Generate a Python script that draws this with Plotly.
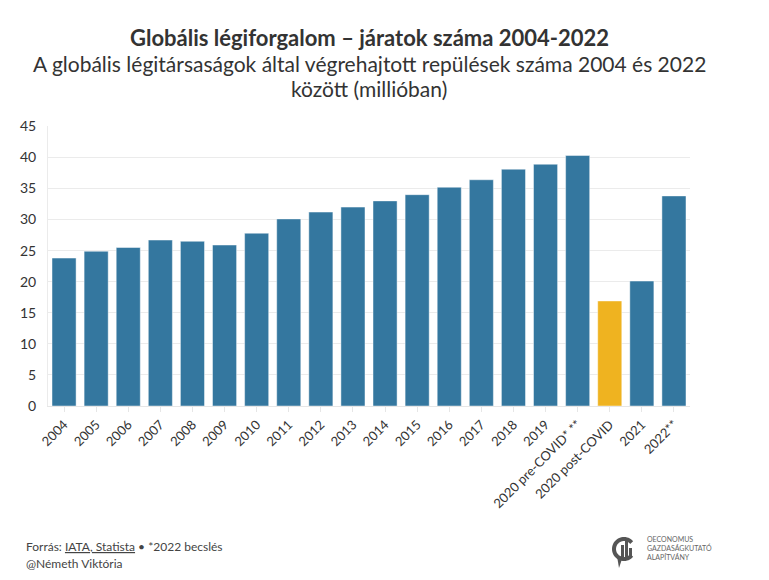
import math
import plotly.graph_objects as go

categories = ["2004", "2005", "2006", "2007", "2008", "2009", "2010", "2011", "2012",
              "2013", "2014", "2015", "2016", "2017", "2018", "2019",
              "2020 pre-COVID* **", "2020 post-COVID", "2021", "2022**"]
values = [23.8, 24.9, 25.5, 26.7, 26.5, 25.9, 27.8, 30.1, 31.2, 32.0, 33.0, 34.0,
          35.2, 36.4, 38.1, 38.9, 40.3, 16.9, 20.1, 33.8]
highlight = "2020 post-COVID"
y_ticks = [0, 5, 10, 15, 20, 25, 30, 35, 40, 45]

BLUE = "#34779f"
YELLOW = "#efb320"
colors = [YELLOW if c == highlight else BLUE for c in categories]

FONT = "Lato"

# plot area in pixels (for placing the logo mark)
PL, PR, PT, PB = 48, 690, 126, 406


def px(x):
    return (x - PL) / (PR - PL)


def py(y):
    return (PB - y) / (PB - PT)


fig = go.Figure(go.Bar(
    x=categories, y=values,
    marker=dict(color=colors, line=dict(color="rgba(255,255,255,0.45)", width=1)),
    hovertemplate="%{x}: %{y}<extra></extra>",
))

# logo: open arc "C" with bars and a tail
cx, cy, r = 624, 549, 10
pts = []
for i in range(0, 41):
    a = math.radians(40 + i * (280 / 40))
    pts.append((cx + r * math.cos(a), cy - r * math.sin(a)))
arc_path = "M " + " L ".join(f"{px(x):.5f},{py(y):.5f}" for x, y in pts)

logo_shapes = [
    dict(type="path", xref="paper", yref="paper", path=arc_path,
         line=dict(color="#555555", width=4)),
    dict(type="path", xref="paper", yref="paper",
         path=f"M {px(617):.5f},{py(556):.5f} L {px(622):.5f},{py(559):.5f} L {px(619):.5f},{py(568):.5f} Z",
         line=dict(width=0), fillcolor="#555555"),
    dict(type="rect", xref="paper", yref="paper",
         x0=px(621), x1=px(624), y0=py(558), y1=py(545),
         line=dict(width=0), fillcolor="#555555"),
    dict(type="rect", xref="paper", yref="paper",
         x0=px(625), x1=px(628), y0=py(558), y1=py(540),
         line=dict(width=0), fillcolor="#555555"),
    dict(type="rect", xref="paper", yref="paper",
         x0=px(629), x1=px(632), y0=py(558), y1=py(548),
         line=dict(width=0), fillcolor="#555555"),
]

fig.update_layout(
    width=769, height=580,
    margin=dict(l=PL, r=769 - PR, t=PT, b=580 - PB),
    paper_bgcolor="white", plot_bgcolor="white",
    bargap=0.25,
    showlegend=False,
    font=dict(family=FONT, color="#333333"),
    xaxis=dict(
        type="category", tickangle=-45,
        tickfont=dict(size=13, color="#333333"),
        showgrid=False, showline=True, linecolor="#e6e6e6", linewidth=1,
        ticks="outside", ticklen=5, tickcolor="#e6e6e6",
        fixedrange=True,
    ),
    yaxis=dict(
        range=[0, 45.05], tickvals=y_ticks,
        tickfont=dict(size=14, color="#333333"),
        showgrid=True, gridcolor="#ebebeb", gridwidth=1,
        showline=True, linecolor="#ebebeb", linewidth=1,
        zeroline=False, ticks="", ticklabelstandoff=8,
        fixedrange=True,
    ),
    annotations=[
        dict(text="<b>Globális légiforgalom – járatok száma 2004-2022</b>",
             xref="paper", yref="paper", x=0.5, y=1.0, yshift=89,
             xanchor="center", yanchor="middle", showarrow=False,
             font=dict(size=22, color="#333333", family=FONT)),
        dict(text="A globális légitársaságok által végrehajtott repülések száma 2004 és 2022",
             xref="paper", yref="paper", x=0.5, y=1.0, yshift=63,
             xanchor="center", yanchor="middle", showarrow=False,
             font=dict(size=21, color="#333333", family=FONT)),
        dict(text="között (millióban)",
             xref="paper", yref="paper", x=0.5, y=1.0, yshift=38,
             xanchor="center", yanchor="middle", showarrow=False,
             font=dict(size=21, color="#333333", family=FONT)),
        dict(text="Forrás: <u>IATA, Statista</u> • *2022 becslés",
             xref="paper", yref="paper", x=0, xshift=-24, y=0, yshift=-140,
             xanchor="left", yanchor="middle", showarrow=False,
             font=dict(size=12, color="#444444", family=FONT)),
        dict(text="@Németh Viktória",
             xref="paper", yref="paper", x=0, xshift=-24, y=0, yshift=-157,
             xanchor="left", yanchor="middle", showarrow=False,
             font=dict(size=12, color="#444444", family=FONT)),
        dict(text="OECONOMUS<br>GAZDASÁGKUTATÓ<br>ALAPÍTVÁNY",
             xref="paper", yref="paper", x=0, xshift=597, y=0, yshift=-142,
             xanchor="left", yanchor="middle", showarrow=False, align="left",
             font=dict(size=7, color="#666666", family=FONT)),
    ],
    shapes=logo_shapes,
)

fig.write_html("out.html")
